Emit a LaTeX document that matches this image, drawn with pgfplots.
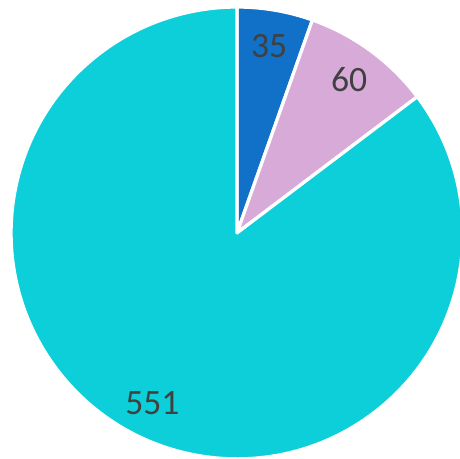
\documentclass[border=0pt]{standalone}
\usepackage{pgfplots}
\pgfplotsset{compat=1.18}
\usepackage{pgfplotstable}
\usepackage{fontspec}
\setmainfont{Carlito}
\definecolor{cA}{HTML}{1170C8}
\definecolor{cB}{HTML}{D8AAD8}
\definecolor{cC}{HTML}{0DCFDA}
\definecolor{txt}{HTML}{404040}
\pgfplotstableread{
label value color
35 35 cA
60 60 cB
551 551 cC
}\piedata
\begin{document}
\begin{tikzpicture}
\pgfplotstablegetrowsof{\piedata}
\pgfmathtruncatemacro{\nrows}{\pgfplotsretval-1}
\xdef\total{0}
\foreach \i in {0,...,\nrows}{
  \pgfplotstablegetelem{\i}{value}\of{\piedata}
  \pgfmathsetmacro{\t}{\total+\pgfplotsretval}
  \xdef\total{\t}
}
\begin{axis}[
  x=3.9cm, y=3.9cm,
  xmin=-1.049, xmax=0.987, ymin=-1.0, ymax=1.031,
  hide axis, clip=true,
]
\xdef\start{90}
\foreach \i in {0,...,\nrows}{
  \pgfplotstablegetelem{\i}{value}\of{\piedata}
  \let\val\pgfplotsretval
  \pgfplotstablegetelem{\i}{color}\of{\piedata}
  \let\col\pgfplotsretval
  \pgfplotstablegetelem{\i}{label}\of{\piedata}
  \let\lab\pgfplotsretval
  \pgfmathsetmacro{\sweep}{360*(\val/\total)}
  \pgfmathsetmacro{\stop}{\start-\sweep}
  \pgfmathsetmacro{\mid}{(\start+\stop)/2}
  \pgfmathsetmacro{\lx}{0.84*cos(\mid)}
  \pgfmathsetmacro{\ly}{0.84*sin(\mid)}
  \edef\temp{\noexpand\filldraw[fill=\col, draw=white, line width=1.6pt, line join=round]
    (axis cs:0,0) -- ++(\start:3.9cm) arc[start angle=\start, end angle=\stop, radius=3.9cm] -- cycle;
    \noexpand\node[text=txt, font=\noexpand\fontsize{17.5}{19}\noexpand\selectfont] at (axis cs:\lx,\ly) {\lab};}
  \temp
  \xdef\start{\stop}
}
\end{axis}
\pgfresetboundingbox
\useasboundingbox (current axis.south west) rectangle (current axis.north east);
\end{tikzpicture}
\end{document}
